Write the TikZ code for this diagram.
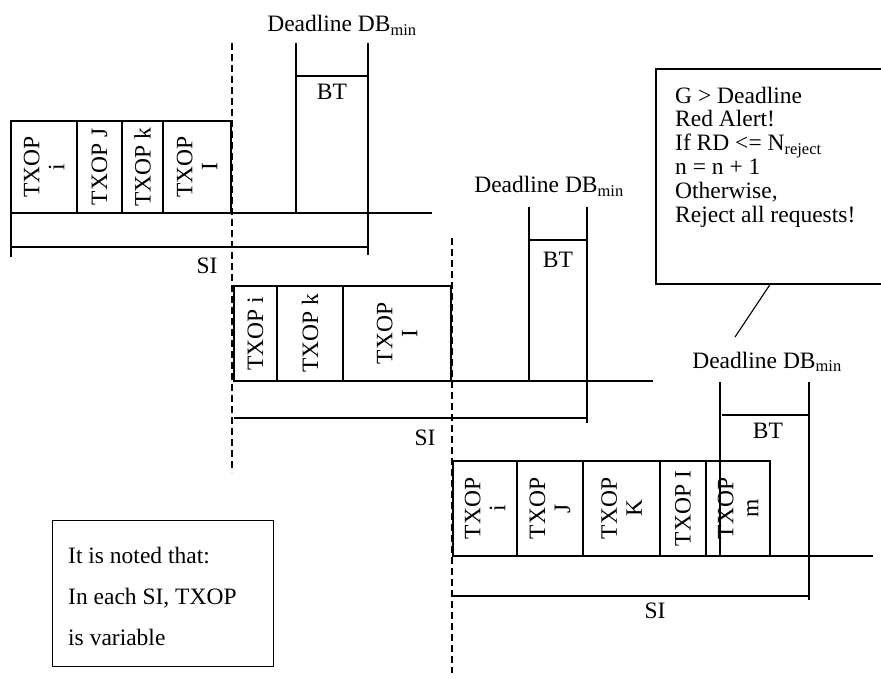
\documentclass[tikz,border=0pt]{standalone}
\usepackage{fontspec}
\setmainfont{Liberation Serif}
\begin{document}
\begin{tikzpicture}[x=1pt,y=-1pt,
  every node/.style={font=\fontsize{23.5}{25}\selectfont},
  ln/.style={line width=1.1pt},
  cell/.style={draw,line width=1.1pt,inner sep=0pt,minimum height=#1},
  rot/.style={rotate=90,align=center,inner sep=0pt,font=\fontsize{23.5}{25}\selectfont},
  lbl/.style={anchor=base,inner sep=0pt},
  dsh/.style={line width=1.1pt,dash pattern=on 7pt off 4pt},
  frame/.style={draw,line width=1.1pt,inner sep=0pt}]
\useasboundingbox (0,0) rectangle (881,679);
% ---------------- block 1
\node[cell=92,minimum width=66] (a1) at (44,167) {};
\node[cell=92,minimum width=45] (a2) at (99.5,167) {};
\node[cell=92,minimum width=41] (a3) at (142.5,167) {};
\node[cell=92,minimum width=68] (a4) at (197,167) {};
\node[rot] at (a1) {TXOP\\i};
\node[rot] at (a2) {TXOP J};
\node[rot] at (a3) {TXOP k};
\node[rot] at (a4) {TXOP\\I};
\coordinate (b1s) at (11,213);
\coordinate (b1e) at (432,213);
\draw[ln] (b1s) -- (b1e);
\coordinate (bt1l) at (296,43);
\coordinate (bt1r) at (368,43);
\draw[ln] (bt1l) -- (296,213);
\draw[ln] (bt1r) -- (368,255);
\draw[ln] (296,76) -- (368,76);
\draw[ln] (11,213) -- (11,257);
\draw[ln] (11,247) -- (368,247);
\node[lbl] (dl1) at (342,32) {Deadline DB\textsubscript{min}};
\node[lbl] (bt1) at (332,100) {BT};
\node[lbl] (si1) at (207,273) {SI};
\draw[dsh] (232,43) -- (232,472);
% ---------------- block 2
\node[cell=95,minimum width=43] (b1) at (255.5,333.5) {};
\node[cell=95,minimum width=66] (b2) at (310,333.5) {};
\node[cell=95,minimum width=108] (b3) at (397,333.5) {};
\node[rot] at (b1) {TXOP i};
\node[rot] at (b2) {TXOP k};
\node[rot] at (b3) {TXOP\\I};
\draw[ln] (234,381) -- (653,381);
\draw[ln] (529,207) -- (529,381);
\draw[ln] (587,207) -- (587,423);
\draw[ln] (529,240) -- (587,240);
\draw[ln] (234,418) -- (587,418);
\node[lbl] (dl2) at (549,193) {Deadline DB\textsubscript{min}};
\node[lbl] (bt2) at (558,267) {BT};
\node[lbl] (si2) at (425,445) {SI};
\draw[dsh] (452,238) -- (452,673);
% ---------------- block 3
\node[cell=95,minimum width=64] (c1) at (485,508.5) {};
\node[cell=95,minimum width=66] (c2) at (550,508.5) {};
\node[cell=95,minimum width=77] (c3) at (621.5,508.5) {};
\node[cell=95,minimum width=46] (c4) at (683,508.5) {};
\node[cell=95,minimum width=64] (c5) at (738,508.5) {};
\node[rot] at (c1) {TXOP\\i};
\node[rot] at (c2) {TXOP\\J};
\node[rot] at (c3) {TXOP\\K};
\node[rot] at (c4) {TXOP I};
\node[rot] at (c5) {TXOP\\m};
\draw[ln] (453,556) -- (873,556);
\draw[ln] (720,382) -- (720,556);
\draw[ln] (809,382) -- (809,600);
\draw[ln] (722,415) -- (809,415);
\draw[ln] (453,596) -- (809,596);
\node[lbl] (dl3) at (767,368) {Deadline DB\textsubscript{min}};
\node[lbl] (bt3) at (768,438) {BT};
\node[lbl] (si3) at (655,618) {SI};
% ---------------- callout
\node[frame,minimum width=228,minimum height=215] (callout) at (770,176.5) {};
\node[anchor=north west,inner sep=0pt,align=left,font=\fontsize{23.5}{23.8}\selectfont] (calltext) at (675,86.5)
  {G > Deadline\\Red Alert!\\If RD <= N\textsubscript{reject}\\n = n + 1\\Otherwise,\\Reject all requests!};
\coordinate (cl) at (735,337);
\draw[ln] (callout.south) -- (cl);
% ---------------- note
\node[frame,minimum width=221,minimum height=146,anchor=north west] (note) at (52,520) {};
\node[anchor=north west,inner sep=0pt,align=left,font=\fontsize{23.5}{41}\selectfont] (notetext) at (68,546.5)
  {It is noted that:\\In each SI, TXOP\\is variable};
\end{tikzpicture}
\end{document}
